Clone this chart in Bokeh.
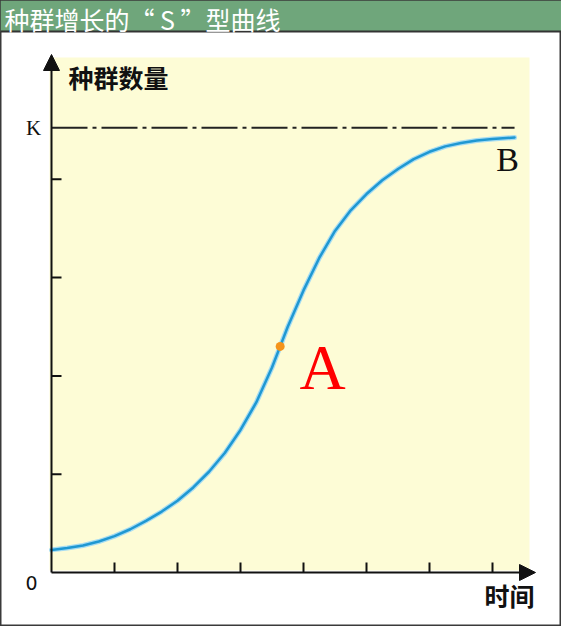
from bokeh.plotting import figure
from bokeh.models import Range1d, Arrow, NormalHead
from bokeh.core.properties import value
from bokeh.embed import file_html
from bokeh.resources import INLINE

# ---------------- data ----------------
time = [0.0, 0.25, 0.5, 0.75, 1.0, 1.25, 1.5, 1.75, 2.0, 2.25, 2.5, 2.75, 3.0,
        3.25, 3.5, 3.63, 3.75, 4.0, 4.25, 4.5, 4.75, 5.0, 5.25, 5.5, 5.75, 6.0,
        6.25, 6.5, 6.75, 7.0, 7.35]
population = [4.6, 5.0, 5.5, 6.3, 7.4, 8.8, 10.5, 12.4, 14.6, 17.3, 20.5, 24.3, 29.0,
              34.6, 41.7, 46.0, 50.0, 57.4, 64.0, 69.5, 73.7, 77.0, 79.8, 82.1, 84.1, 85.6,
              86.7, 87.4, 87.9, 88.2, 88.5]
K = 90.5
point_a_time = [3.63]
point_a_pop = [46.0]
x_ticks = [1, 2, 3, 4, 5, 6, 7]
y_ticks = [20, 40, 60, 80]
title = "种群增长的“ S ”型曲线"
y_label = "种群数量"
x_label = "时间"
k_label = "K"
origin_label = "0"
a_label = "A"
b_label = "B"

# ---------------- layout ----------------
W, H = 561, 626
OFF = 8              # page margin
X0, XU = 59, 63.0    # page x of t=0, px per time unit
Y0, YU = 580, 4.915  # page y of N=0, px per population unit


def dx(px):
    return (px - X0) / XU


def dy(py):
    return (Y0 - py) / YU


p = figure(width=W, height=H, output_backend="svg", toolbar_location=None,
           x_range=Range1d(dx(OFF), dx(OFF + W)), y_range=Range1d(dy(OFF + H), dy(OFF)),
           x_axis_location=None, y_axis_location=None, min_border=0,
           background_fill_color="white", border_fill_color="white",
           outline_line_color="#3a3a3a", outline_line_width=2)
p.grid.visible = False

# plot background (light yellow)
p.quad(left=dx(57), right=dx(537), bottom=dy(578), top=dy(65),
       fill_color="#fdfcd6", line_color=None)

# title bar
p.quad(left=dx(OFF), right=dx(OFF + W), top=dy(OFF), bottom=dy(39),
       fill_color="#6fa67b", line_color=None)
p.segment(x0=[dx(OFF)], y0=[dy(39)], x1=[dx(OFF + W)], y1=[dy(39)],
          line_color="#333333", line_width=2)
p.text(x=[dx(12)], y=[dy(26)], text=[title], text_font=value("Noto Sans CJK SC"),
       text_font_size="25px", text_color="white", text_baseline="middle", text_align="left")

# K dash-dot line
p.segment(x0=[0], y0=[K], x1=[time[-1]], y1=[K], line_color="#222222",
          line_width=2, line_dash="36 5 4 5")

# S curve
p.line(time, population, line_color="#a6dcf2", line_width=5, line_join="round", line_cap="round")
p.line(time, population, line_color="#1f98d2", line_width=2.5, line_join="round", line_cap="round")
p.scatter(point_a_time, point_a_pop, size=9, fill_color="#f4931a", line_color=None)

# axes with arrows
p.add_layout(Arrow(end=NormalHead(size=16, fill_color="#111111", line_color="#111111"),
                   x_start=0, y_start=0, x_end=0, y_end=dy(62),
                   line_color="#111111", line_width=2))
p.add_layout(Arrow(end=NormalHead(size=16, fill_color="#111111", line_color="#111111"),
                   x_start=0, y_start=0, x_end=dx(543), y_end=0,
                   line_color="#111111", line_width=2))

# ticks (10 px, pointing inward)
tick_h = 10 / YU
tick_w = 10 / XU
p.segment(x0=x_ticks, y0=[0] * len(x_ticks), x1=x_ticks, y1=[tick_h] * len(x_ticks),
          line_color="#111111", line_width=2)
p.segment(x0=[0] * len(y_ticks), y0=y_ticks, x1=[tick_w] * len(y_ticks), y1=y_ticks,
          line_color="#111111", line_width=2)

# labels
cjk = value("Noto Sans CJK SC")
serif = value("Liberation Serif")
p.text(x=[dx(76)], y=[dy(84)], text=[y_label], text_font=cjk, text_font_size="25px",
       text_font_style="bold", text_color="#111111", text_baseline="middle", text_align="left")
p.text(x=[dx(492)], y=[dy(602)], text=[x_label], text_font=cjk, text_font_size="25px",
       text_font_style="bold", text_color="#111111", text_baseline="middle", text_align="left")
p.text(x=[dx(41)], y=[K], text=[k_label], text_font=serif,
       text_font_size="21px", text_color="#111111", text_baseline="middle", text_align="center")
p.text(x=[dx(39)], y=[dy(590)], text=[origin_label], text_font=value("DejaVu Sans"),
       text_font_size="19px", text_color="#111111", text_baseline="middle", text_align="center")
p.text(x=[dx(330)], y=[dy(375)], text=[a_label], text_font=serif,
       text_font_size="64px", text_color="#ff0000", text_baseline="middle", text_align="center")
p.text(x=[dx(515)], y=[dy(167)], text=[b_label], text_font=serif,
       text_font_size="34px", text_color="#111111", text_baseline="middle", text_align="center")

open("out.html", "w").write(file_html(p, INLINE))
